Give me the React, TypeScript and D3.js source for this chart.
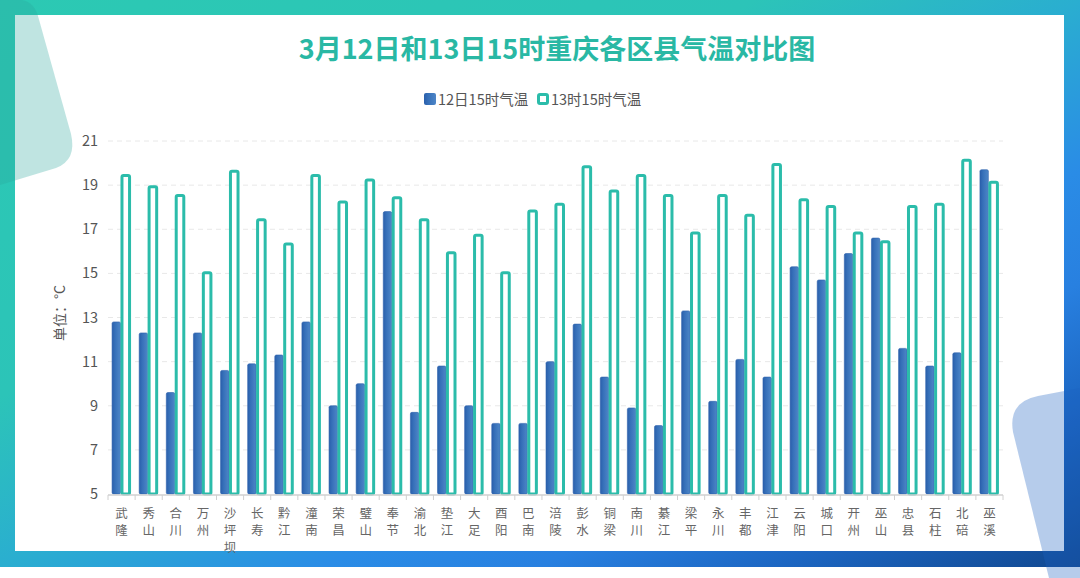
import React from "react";
import * as d3 from "d3";

const categories = ["武隆","秀山","合川","万州","沙坪坝","长寿","黔江","潼南","荣昌","璧山","奉节","渝北","垫江","大足","酉阳","巴南","涪陵","彭水","铜梁","南川","綦江","梁平","永川","丰都","江津","云阳","城口","开州","巫山","忠县","石柱","北碚","巫溪"];
const temp12 = [12.8,12.3,9.6,12.3,10.6,10.9,11.3,12.8,9.0,10.0,17.8,8.7,10.8,9.0,8.2,8.2,11.0,12.7,10.3,8.9,8.1,13.3,9.2,11.1,10.3,15.3,14.7,15.9,16.6,11.6,10.8,11.4,19.7];
const temp13 = [19.5,19.0,18.6,15.1,19.7,17.5,16.4,19.5,18.3,19.3,18.5,17.5,16.0,16.8,15.1,17.9,18.2,19.9,18.8,19.5,18.6,16.9,18.6,17.7,20.0,18.4,18.1,16.9,16.5,18.1,18.2,20.2,19.2];
const yTicks = [5,7,9,11,13,15,17,19,21];
const seriesNames = ["12日15时气温","13时15时气温"];
const title = "3月12日和13日15时重庆各区县气温对比图";
const yLabel = "单位：°C";

const W = 1080, H = 578;
const FONT = "'Noto Sans CJK SC', 'Noto Sans', sans-serif";
const TEAL = "#2bbcaa";

export default function App() {
  const x = d3.scaleBand<string>().domain(categories).range([108, 1003]).padding(0);
  const y = d3.scaleLinear().domain([5, 21]).range([494, 141]);
  const bw = x.bandwidth();
  const blueW = bw * 0.31;
  const tealOuter = bw * 0.39;
  const groupW = blueW + tealOuter;
  const off = (bw - groupW) / 2;
  const sw = 3;

  return (
    <svg width={W} height={H} style={{ position: "absolute", left: 0, top: 0, display: "block" }} fontFamily={FONT}>
      <defs>
        <linearGradient id="frame" x1="0" y1="0" x2="1" y2="1">
          <stop offset="0" stopColor="#2cc9b3" />
          <stop offset="0.35" stopColor="#2cc4b8" />
          <stop offset="0.5" stopColor="#2aaed0" />
          <stop offset="0.65" stopColor="#2a8ce6" />
          <stop offset="0.75" stopColor="#2880e0" />
          <stop offset="0.86" stopColor="#1c66c2" />
          <stop offset="1" stopColor="#114890" />
        </linearGradient>
        <linearGradient id="blueBar" x1="0" y1="0" x2="1" y2="0">
          <stop offset="0" stopColor="#2a5fab" />
          <stop offset="0.35" stopColor="#3670b9" />
          <stop offset="1" stopColor="#4e86c7" />
        </linearGradient>
      </defs>
      <rect x={0} y={0} width={W} height={H} fill="#fff" />
      <rect x={0} y={0} width={W} height={567} fill="url(#frame)" />
      <rect x={15} y={15} width={1049} height={536} fill="#fff" />
      {/* decorations */}
      <path d="M0,0 L22,0 Q34,2 38,16 L71,134 Q77,160 56,168 L0,185 Z" fill="#2aa79a" opacity={0.3} />
      <path d="M1080,388 L1038,396 Q1008,402 1013,432 L1049,578 L1080,578 Z" fill="#1c5fc0" opacity={0.32} />

      {/* title */}
      <text x={557} y={59} textAnchor="middle" fontSize={27} fontWeight="bold" fill="#29b8a4">{title}</text>

      {/* legend */}
      <rect x={424} y={93} width={12} height={12} rx={2} fill="url(#blueBar)" />
      <text x={438} y={104.5} fontSize={14.5} fill="#555">{seriesNames[0]}</text>
      <rect x={538.5} y={94.5} width={9} height={9} rx={1.5} fill="#fff" stroke={TEAL} strokeWidth={3} />
      <text x={551} y={104.5} fontSize={14.5} fill="#555">{seriesNames[1]}</text>

      {/* grid */}
      {yTicks.filter(t => t !== 5).map(t => (
        <line key={t} x1={108} x2={1003} y1={y(t)} y2={y(t)} stroke="#e8e8e8" strokeWidth={1} strokeDasharray="5,4" />
      ))}
      {/* y tick labels */}
      {yTicks.map(t => (
        <text key={t} x={98} y={y(t) + 5} textAnchor="end" fontSize={14.5} fill="#555">{t}</text>
      ))}
      <text transform={`translate(65,313) rotate(-90)`} textAnchor="middle" fontSize={14} fill="#555">{yLabel}</text>

      {/* bars */}
      {categories.map((c, i) => {
        const bx = x(c)!;
        const yb = y(temp12[i]);
        const yt = y(temp13[i]);
        return (
          <g key={c}>
            <rect x={bx + off} y={yb} width={blueW} height={y(5) - yb} rx={1.5} fill="url(#blueBar)" stroke="#2d62ad" strokeWidth={0.6} />
            <rect x={bx + off + blueW + sw / 2} y={yt + sw / 2} width={tealOuter - sw} height={y(5) - yt - sw / 2} rx={1.5} fill="#fff" stroke={TEAL} strokeWidth={sw} />
          </g>
        );
      })}

      {/* x axis */}
      <line x1={108} x2={1003} y1={495} y2={495} stroke="#d0d0d0" strokeWidth={1.5} />
      {categories.map((c) => (
        <line key={"t" + c} x1={x(c)!} x2={x(c)!} y1={495} y2={500} stroke="#d0d0d0" strokeWidth={1} />
      ))}
      <line x1={1003} x2={1003} y1={495} y2={500} stroke="#d0d0d0" strokeWidth={1} />
      {categories.map(c => {
        const cx = x(c)! + bw / 2;
        return (
          <text key={"l" + c} textAnchor="middle" fontSize={12.5} fill="#666">
            {Array.from(c).map((ch, k) => (
              <tspan key={k} x={cx} y={518 + k * 17}>{ch}</tspan>
            ))}
          </text>
        );
      })}
    </svg>
  );
}
